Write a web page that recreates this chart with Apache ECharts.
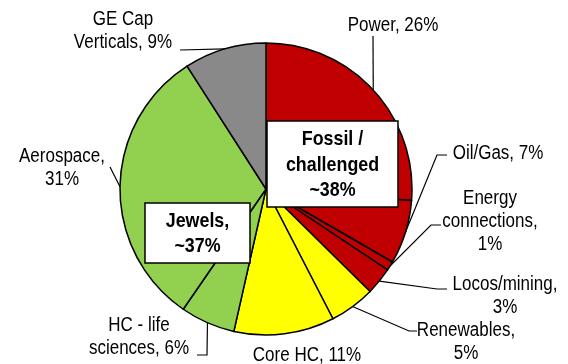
<!DOCTYPE html>
<html>
<head>
<meta charset="utf-8">
<script src="https://cdn.jsdelivr.net/npm/echarts@6/dist/echarts.min.js"></script>
<style>
  html, body { margin: 0; padding: 0; background: #fff; }
  #chart { width: 568px; height: 364px; }
</style>
</head>
<body>
<div id="chart"></div>
<script>
// Business segments, clockwise from 12 o'clock
const segments = ['Power', 'Oil/Gas', 'Energy\nconnections', 'Locos/mining', 'Renewables',
                  'Core HC', 'HC - life\nsciences', 'Aerospace', 'GE Cap\nVerticals'];
const shares = [26, 7, 1, 3, 5, 11, 6, 31, 9];
// whether the percentage goes on its own line
const valueOnNewLine = [false, false, true, true, true, false, false, true, false];
// segment groups
const groupOf = ['fossil', 'fossil', 'fossil', 'fossil', 'growth', 'growth', 'jewel', 'jewel', 'capital'];
const groupColors = { fossil: '#C00000', growth: '#FFFF00', jewel: '#92D050', capital: '#898989' };

// pie geometry
const CX = 266, CY = 189, R = 146;
const FONT = '"Liberation Sans", Arial, sans-serif';
const NARROW = 0.85; // horizontal squeeze for a narrow typeface look

// label centres and leader elbows (label side first)
const labelPlacement = [
  { x: 393, y: 25,  path: [[373, 36]] },
  { x: 498, y: 153, path: [[447, 155], [437, 155]] },
  { x: 490, y: 221, path: [[441, 225], [431, 225]] },
  { x: 505, y: 296, path: [[447, 289], [437, 289]] },
  { x: 466, y: 342, path: [[417, 331], [409, 331]] },
  { x: 307, y: 355, path: null },
  { x: 139, y: 337, path: [[197, 355], [207, 355]] },
  { x: 62,  y: 168, path: [[110, 167]] },
  { x: 123, y: 31,  path: [[180, 50]] }
];

const total = shares.reduce((a, b) => a + b, 0);
// point on the rim at the middle of each slice
const rimMid = [];
let acc = 0;
shares.forEach(v => {
  const a = (acc + v / 2) / total * 2 * Math.PI;
  rimMid.push([CX + R * Math.sin(a), CY - R * Math.cos(a)]);
  acc += v;
});

const labelText = i => segments[i] + ',' + (valueOnNewLine[i] ? '\n' : ' ') + shares[i] + '%';

const graphics = [];
// leader lines
labelPlacement.forEach((pl, i) => {
  if (!pl.path) return;
  graphics.push({
    type: 'polyline', z: 50, silent: true,
    shape: { points: pl.path.concat([rimMid[i]]) },
    style: { stroke: '#000', lineWidth: 1.2, fill: null }
  });
});
// segment labels
labelPlacement.forEach((pl, i) => {
  graphics.push({
    type: 'text', z: 50, silent: true,
    x: pl.x, y: pl.y, scaleX: NARROW,
    style: {
      text: labelText(i), x: 0, y: 0,
      align: 'center', verticalAlign: 'middle',
      fontFamily: FONT, fontSize: 20, lineHeight: 23, fill: '#000'
    }
  });
});
// group call-out boxes
function callout(x, y, w, h, text, lh) {
  graphics.push({
    type: 'rect', z: 100, silent: true,
    shape: { x: x, y: y, width: w, height: h },
    style: { fill: '#fff', stroke: '#000', lineWidth: 1.5 }
  });
  graphics.push({
    type: 'text', z: 101, silent: true,
    x: x + w / 2, y: y + h / 2 + 1, scaleX: NARROW,
    style: {
      text: text, x: 0, y: 0,
      align: 'center', verticalAlign: 'middle',
      fontFamily: FONT, fontSize: 21, fontWeight: 'bold', lineHeight: lh, fill: '#000'
    }
  });
}
callout(267, 121, 131, 86, 'Fossil /\nchallenged\n~38%', 25.5);
callout(145, 203, 105, 60, 'Jewels,\n~37%', 25);

const chart = echarts.init(document.getElementById('chart'), null, { renderer: 'canvas' });

chart.setOption({
  animation: false,
  backgroundColor: '#fff',
  series: [{
    type: 'pie',
    center: [CX, CY],
    radius: [0, R],
    startAngle: 90,
    clockwise: true,
    silent: true,
    itemStyle: { borderColor: '#000', borderWidth: 1.5 },
    label: { show: false },
    labelLine: { show: false },
    data: segments.map((name, i) => ({
      name: name,
      value: shares[i],
      itemStyle: { color: groupColors[groupOf[i]] }
    }))
  }],
  graphic: graphics
});
</script>
</body>
</html>
